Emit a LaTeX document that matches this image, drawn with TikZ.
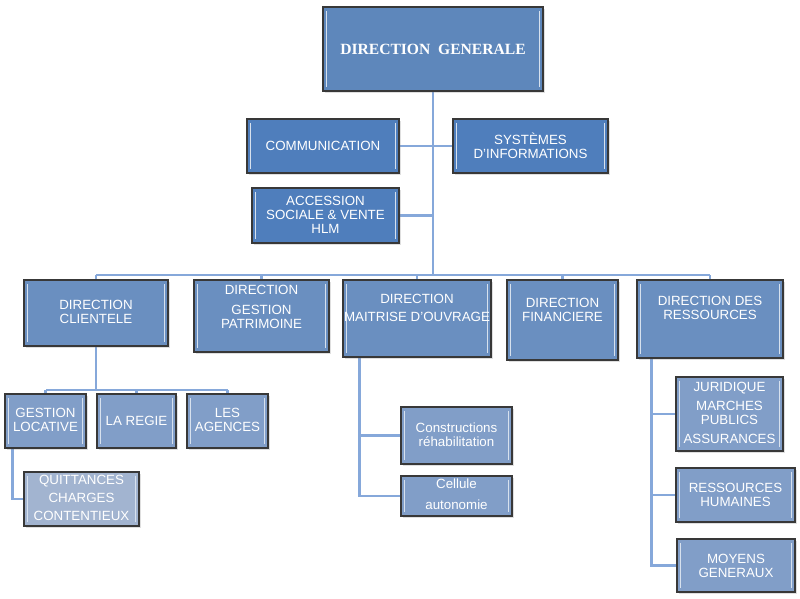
\documentclass[tikz,border=0pt]{standalone}
\usepackage{fontspec}
\setmainfont{Liberation Sans}
\newfontfamily\dgfont{Liberation Serif}
\usetikzlibrary{shadows,backgrounds}
\definecolor{cTop}{HTML}{5E87BB}
\definecolor{cTwo}{HTML}{4F7EBC}
\definecolor{cMid}{HTML}{6A8FC0}
\definecolor{cLow}{HTML}{819EC8}
\definecolor{cPale}{HTML}{A2B4D0}
\definecolor{cLine}{HTML}{86A8DA}
\definecolor{cEdge}{HTML}{383838}
\tikzset{
  orgbox/.style={draw=cEdge, line width=1.1pt, inner sep=0pt,
    drop shadow={opacity=0.25, shadow xshift=1.2pt, shadow yshift=-1.2pt},
    path picture={
      \draw[white!75!cTop, line width=1.2pt]
        ([xshift=2.6pt,yshift=-3pt]path picture bounding box.north west) --
        ([xshift=2.6pt,yshift=3pt]path picture bounding box.south west);
      \draw[white!75!cTop, line width=1.2pt]
        ([xshift=-2.6pt,yshift=-3pt]path picture bounding box.north east) --
        ([xshift=-2.6pt,yshift=3pt]path picture bounding box.south east);
    }},
  txt/.style={text=white, align=center, font=\fontsize{10}{10.5}\selectfont, inner sep=0pt},
  dgtxt/.style={text=white, font=\dgfont\bfseries\fontsize{11.7}{12}\selectfont, inner sep=0pt},
  conn/.style={draw=cLine, line width=2.2pt},
}
% \bx{name}{x1}{y1}{x2}{y2}{fill}{text y}{text}
\newcommand\bx[8]{%
  \node[orgbox, fill=#6, minimum width={(#4-#2)*0.75pt}, minimum height={(#5-#3)*0.75pt}]
    (#1) at ({(#2+#4)/2},{(#3+#5)/2}) {};
  \node[txt] (#1-t) at ({(#2+#4)/2},#7) {#8};}
\begin{document}
\begin{tikzpicture}[x=0.75pt,y=-0.75pt]
\useasboundingbox (0,0) rectangle (800,599);
\coordinate (busL) at (96,275);
\coordinate (busR) at (710,275);
\coordinate (trunk) at (433,275);
\coordinate (subL) at (46,390);
\coordinate (subR) at (228,390);
\coordinate (subM) at (96,390);

% boxes
\node[orgbox, fill=cTop, minimum width={220*0.75pt}, minimum height={84*0.75pt}] (dg) at (433,49) {};
\node[dgtxt] (dg-t) at (433,49) {DIRECTION\ \ GENERALE};

\bx{comm}{247}{119}{399}{173}{cTwo}{146}{COMMUNICATION}
\bx{si}{453}{119}{608}{173}{cTwo}{146}{SYSTÈMES\\D’INFORMATIONS}
\bx{acc}{252}{188}{399}{243}{cTwo}{215}{ACCESSION\\SOCIALE \& VENTE\\HLM}

\bx{dc}{24}{280}{168}{346}{cMid}{312}{DIRECTION\\CLIENTELE}
\bx{dp}{194}{280}{329}{352}{cMid}{307}{DIRECTION\\[5pt]GESTION\\PATRIMOINE}
\bx{dm}{343}{280}{491}{357}{cMid}{308}{DIRECTION\\[3pt]MAITRISE D’OUVRAGE}
\bx{df}{507}{280}{618}{360}{cMid}{310}{DIRECTION\\FINANCIERE}
\bx{dr}{637}{280}{783}{358}{cMid}{308}{DIRECTION DES\\RESSOURCES}

\bx{gl}{5}{394}{86}{448}{cLow}{420}{GESTION\\LOCATIVE}
\bx{reg}{97}{394}{176}{448}{cLow}{421}{LA REGIE}
\bx{ag}{187}{394}{268}{448}{cLow}{420}{LES\\AGENCES}
\bx{quit}{24}{472}{139}{526}{cPale}{498}{QUITTANCES\\[3pt]CHARGES\\[3pt]CONTENTIEUX}

\bx{cons}{401}{407}{512}{464}{cLow}{435}{Constructions\\réhabilitation}
\bx{cell}{401}{476}{512}{516}{cLow}{494}{Cellule\\[5pt]autonomie}

\bx{jur}{676}{377}{783}{451}{cLow}{413}{JURIDIQUE\\[4pt]MARCHES\\PUBLICS\\[4pt]ASSURANCES}
\bx{rh}{676}{468}{795}{522}{cLow}{495}{RESSOURCES\\HUMAINES}
\bx{moy}{677}{539}{795}{592}{cLow}{566}{MOYENS\\GENERAUX}

\coordinate (mline) at ([xshift=12.75pt]dm.south west);
\coordinate (rline) at ([xshift=11.25pt]dr.south west);
\coordinate (gline) at ([xshift=6pt]gl.south west);

% connectors
\begin{scope}[on background layer]
\draw[conn] (dg.south) -- (trunk);
\draw[conn] (comm.east) -- (comm.east -| dg.south);
\draw[conn] (si.west) -- (si.west -| dg.south);
\draw[conn] (acc.east) -- (acc.east -| dg.south);
\draw[conn] (busL) -- (busR);
\draw[conn] (dc.north) -- (dc.north |- busL);
\draw[conn] (dp.north) -- (dp.north |- busL);
\draw[conn] (dm.north) -- (dm.north |- busL);
\draw[conn] (df.north) -- (df.north |- busL);
\draw[conn] (dr.north) -- (dr.north |- busL);
\draw[conn] (dc.south) -- (subM);
\draw[conn] (subL) -- (subR);
\draw[conn] (gl.north) -- (gl.north |- subL);
\draw[conn] (reg.north) -- (reg.north |- subL);
\draw[conn] (ag.north) -- (ag.north |- subL);
\draw[conn] (gline) |- (quit.west);
\draw[conn] (mline) |- (cell.west);
\draw[conn] (cons.west) -- (cons.west -| mline);
\draw[conn] (rline) |- (moy.west);
\draw[conn] (jur.west) -- (jur.west -| rline);
\draw[conn] (rh.west) -- (rh.west -| rline);
\end{scope}
\end{tikzpicture}
\end{document}
